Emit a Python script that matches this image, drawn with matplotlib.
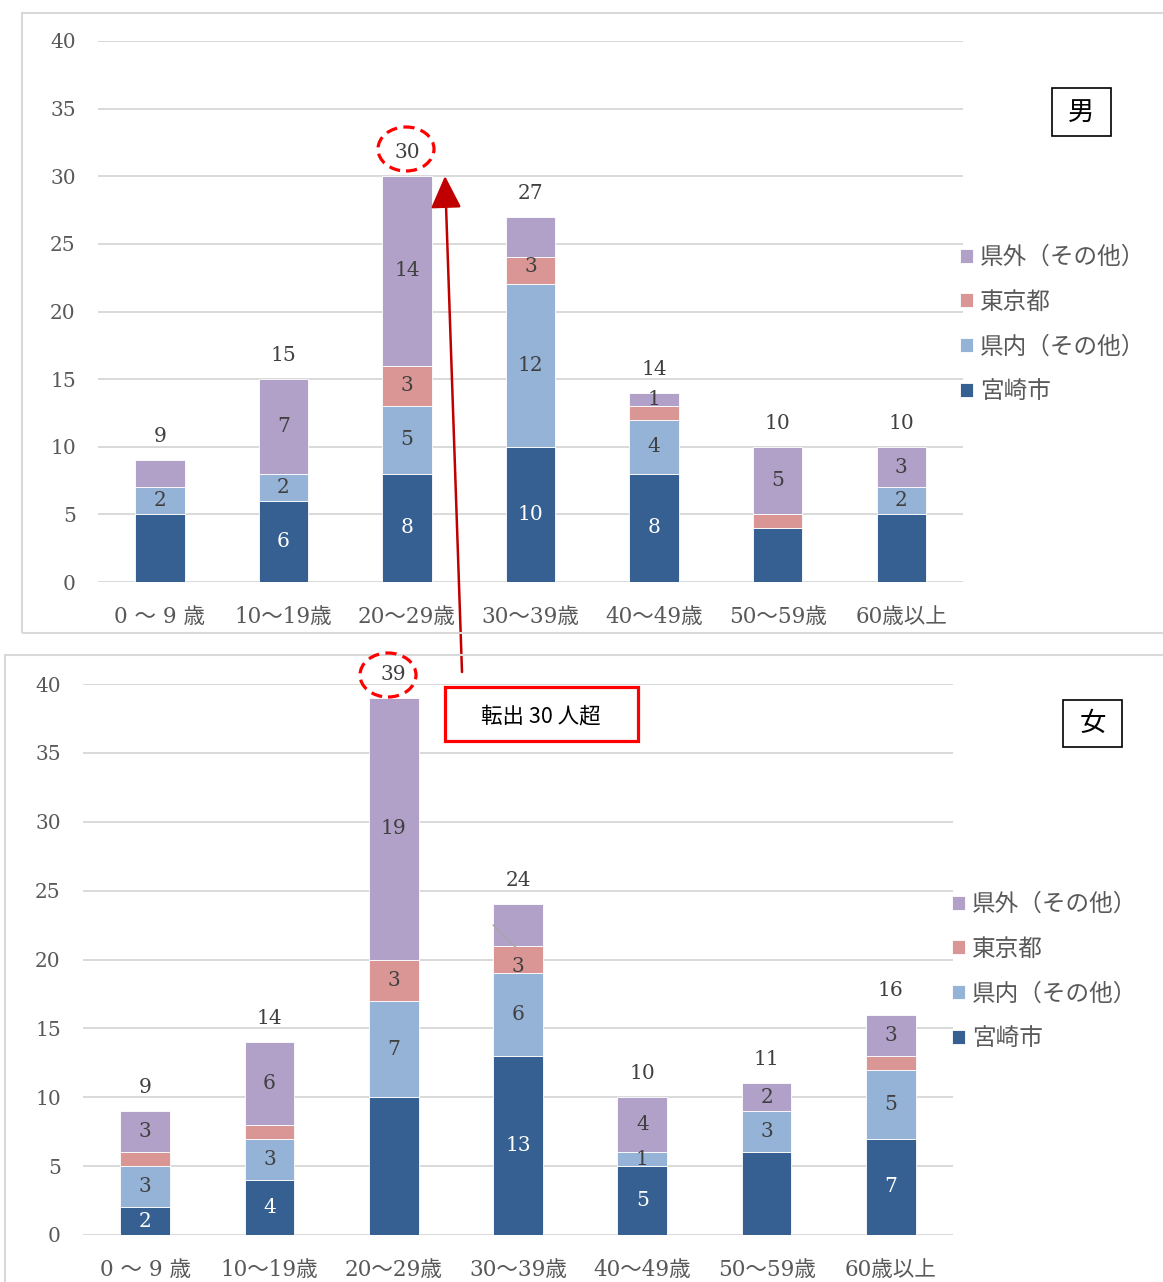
import matplotlib
matplotlib.use("Agg")
import matplotlib.pyplot as plt
from matplotlib.patches import Rectangle, Ellipse, FancyArrowPatch
import numpy as np

plt.rcParams['font.family'] = ['DejaVu Serif', 'Noto Sans CJK JP', 'DejaVu Sans']

AGES = ["0 ～ 9 歳", "10～19歳", "20～29歳", "30～39歳", "40～49歳", "50～59歳", "60歳以上"]
SERIES = ["宮崎市", "県内（その他）", "東京都", "県外（その他）"]
COLORS = ["#366092", "#95b3d7", "#da9694", "#b1a0c7"]

# 男
M_MIYAZAKI = [5, 6, 8, 10, 8, 4, 5]
M_KENNAI   = [2, 2, 5, 12, 4, 0, 2]
M_TOKYO    = [0, 0, 3, 2, 1, 1, 0]
M_KENGAI   = [2, 7, 14, 3, 1, 5, 3]
# 女
F_MIYAZAKI = [2, 4, 10, 13, 5, 6, 7]
F_KENNAI   = [3, 3, 7, 6, 1, 3, 5]
F_TOKYO    = [1, 1, 3, 2, 0, 0, 1]
F_KENGAI   = [3, 6, 19, 3, 4, 2, 3]

# which segment labels are visible in the original (Excel hides some)
M_SHOW = [[0, 1, 1, 1, 1, 0, 0],
          [1, 1, 1, 1, 1, 0, 1],
          [0, 0, 1, 0, 0, 0, 0],
          [0, 1, 1, 1, 1, 1, 1]]
F_SHOW = [[1, 1, 0, 1, 1, 0, 1],
          [1, 1, 1, 1, 1, 1, 1],
          [0, 0, 1, 0, 0, 0, 0],
          [1, 1, 1, 1, 1, 1, 1]]
# 30～39 県外 label was dragged down in the original
M_NUDGE = {(3, 3): -2.2}
F_NUDGE = {(3, 3): -3.0}

W, H = 1163, 1282
fig = plt.figure(figsize=(W / 100, H / 100), dpi=100)


def fx(px):
    return px / W


def fy(py):
    return 1 - py / H


TICK_C = "#595959"
LBL_C = "#404040"
NUM_FS = 14.5


def panel(rect, data, show, nudge, leg_xy, title, title_box, leader=False):
    ax = fig.add_axes(rect)
    x = np.arange(len(AGES))
    bottom = np.zeros(len(AGES))
    bars = []
    for si, (vals, c) in enumerate(zip(data, COLORS)):
        vals = np.array(vals, float)
        b = ax.bar(x, vals, 0.4, bottom=bottom, color=c, edgecolor="white",
                   linewidth=0.6, zorder=3, label=SERIES[si])
        bars.append(b)
        for i in range(len(AGES)):
            if show[si][i] and vals[i] > 0:
                yc = bottom[i] + vals[i] / 2 + nudge.get((si, i), 0)
                ax.text(x[i], yc, f"{vals[i]:.0f}", ha="center", va="center",
                        fontsize=NUM_FS, color="white" if si == 0 else LBL_C, zorder=5)
        bottom += vals
    for i in range(len(AGES)):
        ax.annotate(f"{bottom[i]:.0f}", (x[i], bottom[i]), xytext=(0, 17),
                    textcoords="offset points", ha="center", va="center",
                    fontsize=NUM_FS, color=LBL_C)
    if leader:
        ax.plot([2.8, 2.98], [22.5, 20.9], color="#a6a6a6", lw=1.0, zorder=6)

    ax.set_xlim(-0.5, len(AGES) - 0.5)
    ax.set_ylim(0, 40)
    ax.set_yticks(range(0, 41, 5))
    ax.set_xticks(x)
    ax.set_xticklabels(AGES)
    ax.tick_params(length=0, labelsize=NUM_FS, labelcolor=TICK_C)
    ax.tick_params(axis="y", pad=16)
    ax.tick_params(axis="x", pad=17)
    for lab in ax.get_xticklabels():
        lab.set_fontsize(15.5)
    for sp in ax.spines.values():
        sp.set_visible(False)
    ax.grid(axis="y", color="#d9d9d9", lw=1.4, zorder=0)
    ax.set_axisbelow(True)

    leg = ax.legend(handles=bars[::-1], loc="upper left",
                    bbox_to_anchor=(fx(leg_xy[0]), fy(leg_xy[1])),
                    bbox_transform=fig.transFigure, frameon=False,
                    fontsize=17, handlelength=0.55, handleheight=0.55,
                    handletextpad=0.3, labelspacing=0.92, borderpad=0,
                    borderaxespad=0)
    for t in leg.get_texts():
        t.set_color(TICK_C)
        t.set_family(["Noto Sans CJK JP"])

    bx, by, bw, bh = title_box
    fig.patches.append(Rectangle((fx(bx), fy(by + bh)), bw / W, bh / H,
                                 transform=fig.transFigure, fill=False,
                                 edgecolor="black", lw=1.2))
    fig.text(fx(bx + bw / 2), fy(by + bh / 2), title, ha="center", va="center",
             fontsize=19, family=["Noto Sans CJK JP"], color="black")
    return ax


# chart frames
fig.patches.append(Rectangle((fx(22), fy(633)), (1175 - 22) / W, (633 - 13) / H,
                             transform=fig.transFigure, fill=False,
                             edgecolor="#d9d9d9", lw=1.5))
fig.patches.append(Rectangle((fx(5), fy(1295)), (1175 - 5) / W, (1295 - 655) / H,
                             transform=fig.transFigure, fill=False,
                             edgecolor="#d9d9d9", lw=1.5))

panel([fx(98), fy(582), (963 - 98) / W, (582 - 41) / H],
      [M_MIYAZAKI, M_KENNAI, M_TOKYO, M_KENGAI], M_SHOW, M_NUDGE,
      (960, 246), "男", (1052, 88, 59, 48))
panel([fx(83), fy(1235), (953 - 83) / W, (1235 - 684) / H],
      [F_MIYAZAKI, F_KENNAI, F_TOKYO, F_KENGAI], F_SHOW, F_NUDGE,
      (952, 893), "女", (1063, 700, 59, 47), leader=True)

# highlight: dashed ellipses around the 20～29 totals
for cx, cy in ((406, 149), (388, 675)):
    fig.patches.append(Ellipse((fx(cx), fy(cy)), 56 / W, 44 / H,
                               transform=fig.transFigure, fill=False,
                               edgecolor="#ff0000", lw=2.3, ls=(0, (3.5, 2))))

# arrow + callout box
fig.add_artist(FancyArrowPatch(
    (fx(462), fy(672)), (fx(445), fy(176)), transform=fig.transFigure,
    arrowstyle="-|>,head_length=2.0,head_width=0.95", mutation_scale=10,
    color="#c00000", lw=1.8, shrinkA=0, shrinkB=0))
fig.patches.append(Rectangle((fx(445), fy(741)), 193 / W, 54 / H,
                             transform=fig.transFigure, facecolor="white",
                             edgecolor="#ff0000", lw=2.3, zorder=10))
fig.text(fx(541), fy(716), "転出 30 人超", ha="center", va="center",
         fontsize=15.5, family=["Noto Sans CJK JP"], color="black", zorder=11)

fig.savefig("out.png", dpi=100)
